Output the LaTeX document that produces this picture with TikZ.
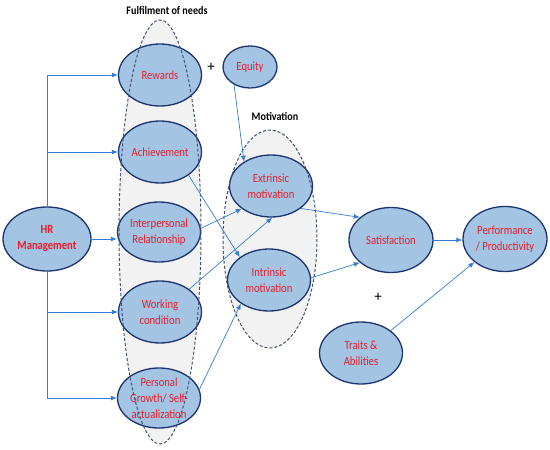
\documentclass[tikz,border=0pt]{standalone}
\usepackage{fontspec}
\setmainfont{Carlito}
\newfontfamily\condfont[FakeStretch=0.85]{Carlito}
\newfontfamily\titlefont[FakeStretch=0.88]{Carlito}
\usetikzlibrary{shapes.geometric,arrows.meta}
\definecolor{nodefill}{RGB}{164,196,228}
\definecolor{nodeedge}{RGB}{28,52,110}
\definecolor{txtred}{RGB}{232,28,40}
\definecolor{arrblue}{RGB}{52,126,214}
\definecolor{grpfill}{RGB}{242,242,242}
\definecolor{grpedge}{RGB}{68,84,106}
\tikzset{
  oval/.style={ellipse, draw=nodeedge, line width=1.3pt, fill=nodefill, inner sep=0pt,
    text=txtred, align=center, font=\condfont\fontsize{12.5}{16}\selectfont},
  stdoval/.style={oval, minimum width=83pt, minimum height=62pt},
  grpfillst/.style={fill=grpfill, draw=none},
  grpline/.style={draw=grpedge, line width=1pt, dash pattern=on 3pt off 2pt},
  conn/.style={draw=arrblue, line width=0.7pt, -{Latex[length=6pt,width=5pt]}},
  grplabel/.style={font=\titlefont\fontsize{11.5}{12}\selectfont\bfseries, text=black},
  plus/.style={font=\fontsize{15}{15}\selectfont, text=black}
}
\begin{document}
\begin{tikzpicture}[x=1pt,y=-1pt]
\useasboundingbox (0,0) rectangle (550,450);
% group fills
\path[grpfillst] (160,232) ellipse [x radius=41, y radius=212];
\path[grpfillst] (270,239) ellipse [x radius=47, y radius=109];
% labels
\node[grplabel] (lfulfil) at (167,10) {Fulfilment of needs};
\node[grplabel] (lmotiv) at (275,116) {Motivation};
\node[plus] (plus1) at (211,67) {+};
\node[plus] (plus2) at (378,297) {+};
% nodes
\node[oval, minimum width=88pt, minimum height=64pt, font=\condfont\fontsize{12.5}{16}\selectfont\bfseries] (hr) at (47,239) {HR\\Management};
\node[stdoval] (rew) at (160,75) {Rewards};
\node[stdoval] (ach) at (160,152) {Achievement};
\node[stdoval, minimum height=60pt] (inter) at (159,232) {Interpersonal\\Relationship};
\node[stdoval] (work) at (160,312) {Working\\condition};
\node[stdoval, minimum height=60pt] (pers) at (159,398) {Personal\\Growth/ Self-\\actualization};
\node[oval, minimum width=54pt, minimum height=42pt] (eq) at (250,67) {Equity};
\node[stdoval] (ext) at (271,186) {Extrinsic\\motivation};
\node[stdoval] (int) at (269,280) {Intrinsic\\motivation};
\node[oval, minimum width=84pt, minimum height=65pt] (sat) at (391,240) {Satisfaction};
\node[oval, minimum width=84pt, minimum height=65pt] (perf) at (505,239) {Performance\\/ Productivity};
\node[stdoval] (traits) at (361,353) {Traits \&\\Abilities};
% group outlines (on top of nodes)
\path[grpline] (160,232) ellipse [x radius=41, y radius=212];
\path[grpline] (270,239) ellipse [x radius=47, y radius=109];
% connectors
\draw[conn] (hr.north) |- (rew.west);
\draw[conn] (hr.north) |- (ach.west);
\draw[conn] (hr.east) -- (hr.east -| inter.west);
\draw[conn] (hr.south) |- (work.west);
\draw[conn] (hr.south) |- (pers.west);
\draw[conn] (eq.228) -- (ext.138);
\draw[conn] (ach.-39) -- (int.142);
\draw[conn] (inter.5) -- (ext.218);
\draw[conn] (work.38) -- (ext.272);
\draw[conn] (pers.12) -- (int.220);
\draw[conn] (ext.-37) -- (sat.144);
\draw[conn] (int.3) -- (sat.216);
\draw[conn] (sat.east) -- (sat.east -| perf.west);
\draw[conn] (traits.37) -- (perf.217);
\end{tikzpicture}
\end{document}
